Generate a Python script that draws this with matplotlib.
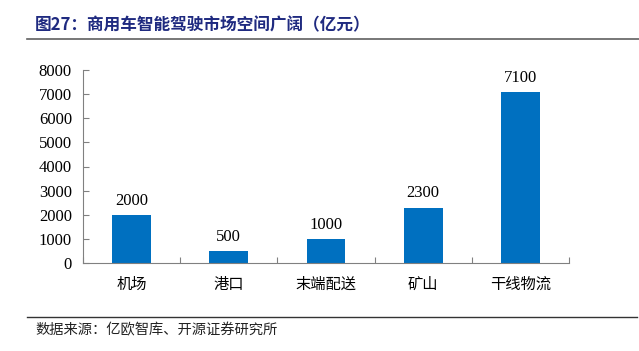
import matplotlib.pyplot as plt
from matplotlib.lines import Line2D

plt.rcParams['font.family'] = ['Liberation Serif', 'Noto Sans CJK SC']

categories = ['机场', '港口', '末端配送', '矿山', '干线物流']
values = [2000, 500, 1000, 2300, 7100]
yticks = [0, 1000, 2000, 3000, 4000, 5000, 6000, 7000, 8000]

fig = plt.figure(figsize=(6.39, 3.51), dpi=100)
W, H = 639, 351
ax = fig.add_axes([83 / W, 1 - 263 / H, (569 - 83) / W, (263 - 70) / H])

x = range(len(categories))
ax.bar(x, values, width=0.4, color='#0070C0', zorder=2)
for i, v in zip(x, values):
    ax.text(i, v + 250, str(v), ha='center', va='bottom', fontsize=12,
            family='Liberation Serif')

ax.set_xlim(-0.5, len(categories) - 0.5)
ax.set_ylim(0, 8000)
ax.set_yticks(yticks)
ax.set_yticklabels([str(t) for t in yticks], fontsize=12, family='Liberation Serif')
ax.set_xticks([i + 0.5 for i in range(-1, len(categories))])
ax.set_xticklabels([])
ax.tick_params(axis='both', direction='in', length=4, color='#808080', width=0.8)
ax.tick_params(axis='y', pad=8)
for i, c in enumerate(categories):
    ax.text(i, -0.065, c, transform=ax.get_xaxis_transform(), ha='center', va='top',
            fontsize=11, family='Noto Sans CJK SC')

for s in ['top', 'right']:
    ax.spines[s].set_visible(False)
for s in ['left', 'bottom']:
    ax.spines[s].set_color('#808080')
    ax.spines[s].set_linewidth(0.8)

fig.text(35 / W, 1 - 25 / H, '图27：商用车智能驾驶市场空间广阔（亿元）', fontsize=12,
         fontweight='bold', color='#1F2A80', va='center', ha='left',
         family=['Noto Sans CJK SC', 'Liberation Serif'])
fig.add_artist(Line2D([27 / W, 1.0], [1 - 39 / H, 1 - 39 / H], color='#606060', lw=1.2))
fig.add_artist(Line2D([27 / W, 637 / W], [1 - 317 / H, 1 - 317 / H], color='#333333', lw=1.0))
fig.text(35 / W, 1 - 330 / H, '数据来源：亿欧智库、开源证券研究所', fontsize=10.3,
         color='#222222', va='center', ha='left', family='Noto Sans CJK SC')

fig.savefig('out.png', dpi=100)
